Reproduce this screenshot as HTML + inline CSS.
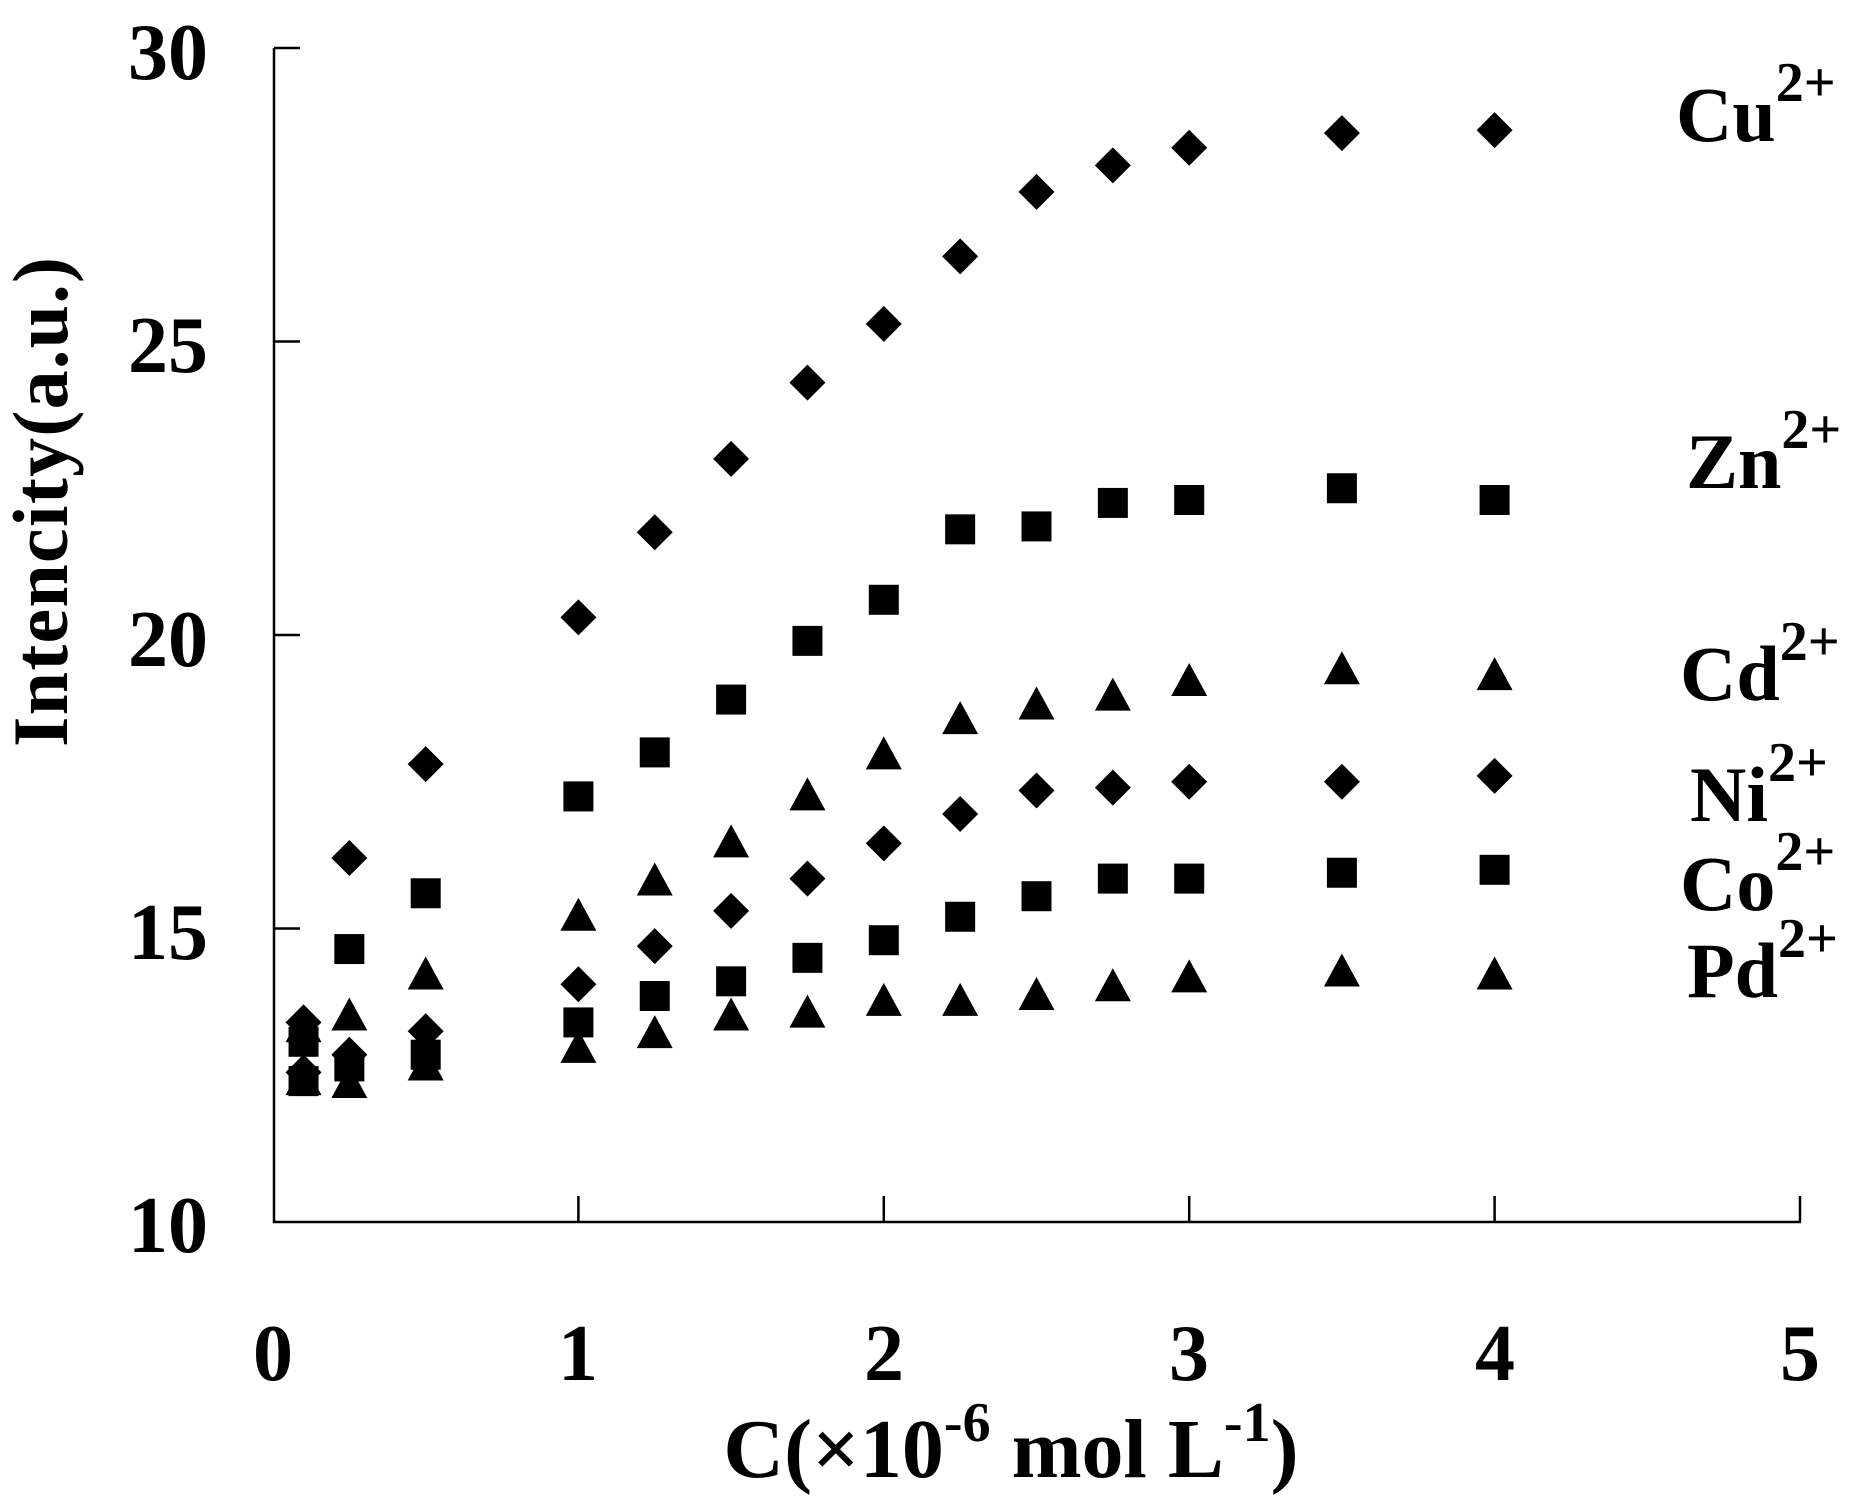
<!DOCTYPE html>
<html><head><meta charset="utf-8"><style>html,body{margin:0;padding:0;background:#fff}svg{display:block}text{font-family:"Liberation Serif","Times New Roman",serif;font-weight:bold}</style></head>
<body>
<svg id="s" width="1856" height="1510" xmlns="http://www.w3.org/2000/svg">
<rect width="1856" height="1510" fill="#fff"/>
<g stroke="#000" stroke-width="2.5" fill="none">
<line x1="274" y1="48" x2="274" y2="1223"/>
<line x1="273" y1="1222" x2="1801" y2="1222"/>
<line x1="274" y1="48" x2="300" y2="48"/>
<line x1="274" y1="341.5" x2="300" y2="341.5"/>
<line x1="274" y1="635" x2="300" y2="635"/>
<line x1="274" y1="928.5" x2="300" y2="928.5"/>
<line x1="578.4" y1="1196" x2="578.4" y2="1222"/>
<line x1="883.8" y1="1196" x2="883.8" y2="1222"/>
<line x1="1189.2" y1="1196" x2="1189.2" y2="1222"/>
<line x1="1494.6" y1="1196" x2="1494.6" y2="1222"/>
<line x1="1800" y1="1196" x2="1800" y2="1222"/>
</g>
<g font-size="80" text-anchor="end">
<text x="208" y="79">30</text>
<text x="208" y="372">25</text>
<text x="208" y="666">20</text>
<text x="208" y="959">15</text>
<text x="208" y="1252">10</text>
</g>
<g font-size="80" text-anchor="middle">
<text x="273" y="1380">0</text>
<text x="578" y="1380">1</text>
<text x="884" y="1380">2</text>
<text x="1189" y="1380">3</text>
<text x="1495" y="1380">4</text>
<text x="1800" y="1380">5</text>
</g>
<text x="1011" y="1477" font-size="84" text-anchor="middle">C(×10<tspan font-size="56" dy="-36">-6</tspan><tspan dy="36"> mol L</tspan><tspan font-size="56" dy="-36">-1</tspan><tspan dy="36">)</tspan></text>
<text transform="translate(67,502) rotate(-90)" font-size="78" text-anchor="middle" textLength="490">Intencity(a.u.)</text>
<g font-size="78">
<text x="1676" y="141">Cu<tspan font-size="56" dy="-40">2+</tspan></text>
<text x="1686" y="488">Zn<tspan font-size="56" dy="-40">2+</tspan></text>
<text x="1680" y="700">Cd<tspan font-size="56" dy="-40">2+</tspan></text>
<text x="1690" y="821">Ni<tspan font-size="56" dy="-40">2+</tspan></text>
<text x="1680" y="910">Co<tspan font-size="56" dy="-40">2+</tspan></text>
<text x="1687" y="997">Pd<tspan font-size="56" dy="-40">2+</tspan></text>
</g>
<g id="m" fill="#000"></g>
</svg>
<script>
var xs=[0.1,0.25,0.5,1,1.25,1.5,1.75,2,2.25,2.5,2.75,3,3.5,4];
var S={
d:[[13.4,16.2,17.8,20.3,21.75,23.0,24.3,25.3,26.45,27.55,28.0,28.3,28.55,28.6],[12.55,12.85,13.25,14.05,14.7,15.3,15.85,16.45,16.95,17.35,17.4,17.5,17.5,17.6]],
s:[[13.07,14.65,15.6,17.25,18.0,18.9,19.9,20.6,21.8,21.85,22.25,22.3,22.5,22.3],[12.4,12.65,12.85,13.4,13.85,14.1,14.5,14.8,15.2,15.55,15.85,15.85,15.95,16.0]],
t:[[13.3,13.5,14.2,15.2,15.8,16.45,17.25,17.95,18.55,18.8,18.95,19.2,19.4,19.3],[12.4,12.35,12.65,12.95,13.2,13.5,13.55,13.75,13.75,13.85,14.0,14.15,14.25,14.2]]};
var g=document.getElementById('m'),h='';
function X(v){return 273+305.4*v}function Y(v){return 1222-58.7*(v-10)}
for(var k in S)S[k].forEach(function(a){a.forEach(function(v,i){var x=X(xs[i]),y=Y(v);
if(k=='d')h+='<polygon points="'+x+','+(y-18)+' '+(x+18)+','+y+' '+x+','+(y+18)+' '+(x-18)+','+y+'"/>';
else if(k=='s')h+='<rect x="'+(x-15)+'" y="'+(y-15)+'" width="30" height="30"/>';
else h+='<polygon points="'+x+','+(y-19)+' '+(x+18)+','+(y+14)+' '+(x-18)+','+(y+14)+'"/>';});});
g.innerHTML=h;
</script>
</body></html>
